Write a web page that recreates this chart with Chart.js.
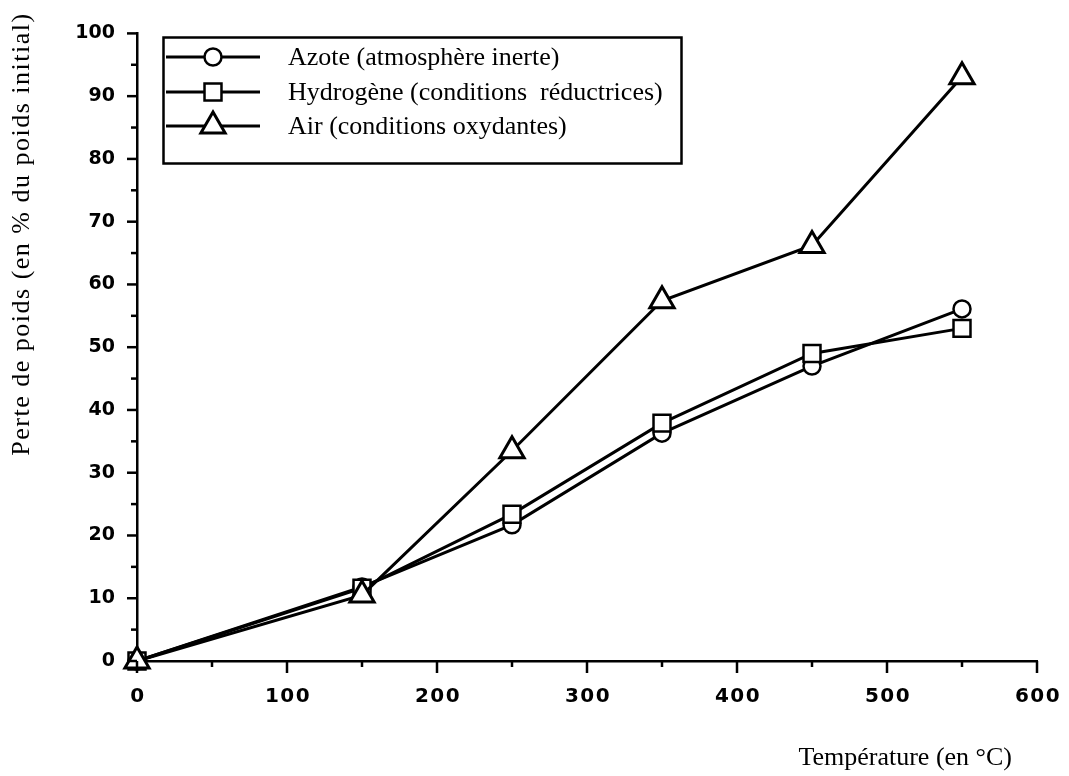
<!DOCTYPE html>
<html>
<head>
<meta charset="utf-8">
<script src="https://cdn.jsdelivr.net/npm/chart.js@4/dist/chart.umd.min.js"></script>
<style>
  body { margin: 0; background: #fff; }
  #wrap { width: 1069px; height: 776px; }
</style>
</head>
<body>
<div id="wrap"><canvas id="myChart" width="1069" height="776"></canvas></div>
<script>
// Températures (°C)
const temperatures = [0, 150, 250, 350, 450, 550];
// Perte de poids (% du poids initial)
const azote = [0, 11.8, 21.7, 36.3, 47.0, 56.1];
const hydrogene = [0, 11.6, 23.4, 37.9, 49.0, 53.0];
const air = [0, 10.5, 33.5, 57.4, 66.2, 93.1];
const labels = [
    'Azote (atmosphère inerte)',
    'Hydrogène (conditions  réductrices)',
    'Air (conditions oxydantes)'
];
const xTickLabels = [0, 100, 200, 300, 400, 500, 600];
const yTickLabels = [0, 10, 20, 30, 40, 50, 60, 70, 80, 90, 100];

function points(values) {
    return temperatures.map((t, i) => ({ x: t, y: values[i] }));
}

// ticks, titres et légende dessinés à la main
const decorPlugin = {
    id: 'decor',
    afterDraw(chart) {
        const ctx = chart.ctx;
        const xs = chart.scales.x;
        const ys = chart.scales.y;
        const area = chart.chartArea;
        ctx.save();
        ctx.strokeStyle = '#000';
        ctx.fillStyle = '#000';
        ctx.lineWidth = 2.5;

        // graduations x (majeures tous les 100, mineures tous les 50)
        for (let v = 0; v <= 600; v += 50) {
            const px = xs.getPixelForValue(v);
            const len = v % 100 === 0 ? 12 : 6;
            ctx.beginPath();
            ctx.moveTo(px, area.bottom);
            ctx.lineTo(px, area.bottom + len);
            ctx.stroke();
        }
        // graduations y
        for (let v = 0; v <= 100; v += 5) {
            const py = ys.getPixelForValue(v);
            const len = v % 10 === 0 ? 10 : 6;
            ctx.beginPath();
            ctx.moveTo(area.left, py);
            ctx.lineTo(area.left - len, py);
            ctx.stroke();
        }

        // étiquettes x
        ctx.font = 'bold 20px "DejaVu Sans"';
        ctx.letterSpacing = '1.5px';
        ctx.textAlign = 'center';
        ctx.textBaseline = 'middle';
        xTickLabels.forEach(v => {
            ctx.fillText(String(v), xs.getPixelForValue(v) + 1, 697);
        });

        // titres des axes
        ctx.font = '26px "Liberation Serif"';
        ctx.letterSpacing = '0px';
        ctx.textAlign = 'right';
        ctx.textBaseline = 'alphabetic';
        ctx.fillText('Température (en °C)', 1012, 765);
        ctx.save();
        ctx.translate(22, 234);
        ctx.rotate(-Math.PI / 2);
        ctx.textAlign = 'center';
        ctx.textBaseline = 'middle';
        ctx.letterSpacing = '1.5px';
        ctx.fillText('Perte de poids (en % du poids initial)', 0, 0);
        ctx.restore();
        ctx.letterSpacing = '0px';

        // légende
        ctx.lineWidth = 2.5;
        ctx.strokeRect(163.5, 37.5, 518, 126);
        const rows = [57, 92, 126];
        chart.data.datasets.forEach((ds, i) => {
            const y = rows[i];
            ctx.lineWidth = 3;
            ctx.beginPath();
            ctx.moveTo(166, y);
            ctx.lineTo(260, y);
            ctx.stroke();
            ctx.fillStyle = '#fff';
            ctx.lineWidth = ds.pointBorderWidth;
            Chart.helpers.drawPoint(ctx, {
                pointStyle: ds.pointStyle,
                radius: ds.pointRadius,
                rotation: 0,
                borderWidth: ds.pointBorderWidth
            }, 213, y);
            ctx.fillStyle = '#000';
            ctx.font = '26px "Liberation Serif"';
            ctx.textAlign = 'left';
            ctx.textBaseline = 'middle';
            ctx.fillText(ds.label, 288, y + 1);
        });
        ctx.restore();
    }
};

const ctx = document.getElementById('myChart').getContext('2d');

const common = {
    borderColor: '#000',
    borderWidth: 3,
    pointBackgroundColor: '#fff',
    pointBorderColor: '#000',
    clip: false
};

new Chart(ctx, {
    type: 'line',
    data: {
        datasets: [
            Object.assign({ label: labels[0], data: points(azote), pointStyle: 'circle', pointRadius: 8.5, pointBorderWidth: 2.5, order: 3 }, common),
            Object.assign({ label: labels[1], data: points(hydrogene), pointStyle: 'rect', pointRadius: 12, pointBorderWidth: 2.5, order: 2 }, common),
            Object.assign({ label: labels[2], data: points(air), pointStyle: 'triangle', pointRadius: 14, pointBorderWidth: 3, order: 1 }, common)
        ]
    },
    options: {
        responsive: false,
        animation: false,
        layout: { padding: { top: 30, right: 32, left: 0, bottom: 0 } },
        scales: {
            x: {
                type: 'linear',
                min: 0,
                max: 600,
                afterFit(scale) { scale.height = 115; },
                ticks: { display: false, stepSize: 50 },
                grid: { display: true, drawOnChartArea: false, drawTicks: false },
                border: { display: true, color: '#000', width: 2.5 }
            },
            y: {
                min: 0,
                max: 100,
                afterFit(scale) { scale.width = 137; },
                afterBuildTicks(scale) { scale.ticks = yTickLabels.map(v => ({ value: v })); },
                ticks: {
                    padding: 22,
                    color: '#000',
                    font: { family: 'DejaVu Sans', size: 19, weight: 'bold' }
                },
                grid: { display: true, drawOnChartArea: false, drawTicks: false },
                border: { display: true, color: '#000', width: 2.5 }
            }
        },
        plugins: {
            legend: { display: false },
            tooltip: { enabled: false }
        }
    },
    plugins: [decorPlugin]
});
</script>
</body>
</html>
